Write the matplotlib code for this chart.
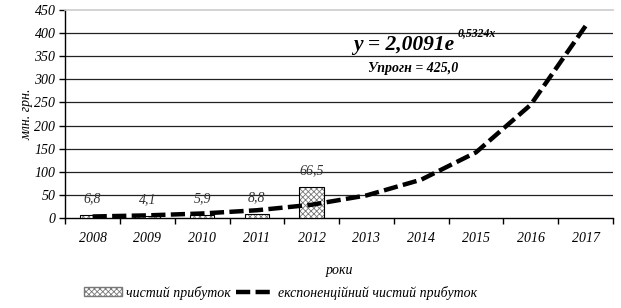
import numpy as np
import matplotlib.pyplot as plt
from matplotlib.patches import Patch
from matplotlib.lines import Line2D

years = ['2008', '2009', '2010', '2011', '2012', '2013', '2014', '2015', '2016', '2017']
profit = [6.8, 4.1, 5.9, 8.8, 66.5]
profit_labels = ['6,8', '4,1', '5,9', '8,8', '66,5']
trend = [3.4, 5.8, 9.9, 16.9, 28.8, 48.9, 83.0, 142.0, 245.0, 415.0]
y_ticks = [0, 50, 100, 150, 200, 250, 300, 350, 400, 450]

plt.rcParams['font.family'] = ['Liberation Serif', 'DejaVu Serif']
plt.rcParams['hatch.linewidth'] = 0.6

fig = plt.figure(figsize=(6.21, 3.08), dpi=100)
ax = fig.add_axes([0.105, 0.292, 0.882, 0.676])

x = np.arange(len(years))
xb = x[:len(profit)]

# hatched bars, then outline on top
ax.bar(xb, profit, width=0.45, color='white', edgecolor='#777777', hatch='xxxxxx', linewidth=0, zorder=3)
ax.bar(xb, profit, width=0.45, fill=False, edgecolor='black', linewidth=0.8, zorder=4)

for xi, v, lab in zip(xb, profit, profit_labels):
    ax.annotate(lab, (xi, v), xytext=(0, 7), textcoords='offset points',
                ha='center', va='bottom', fontsize=10, style='italic', color='#333333')

ax.plot(x, trend, color='black', linewidth=3.2, dashes=(3.2, 1.2), zorder=5, solid_capstyle='butt')

ax.set_xlim(-0.5, len(years) - 0.5)
ax.set_ylim(0, 450)
ax.set_yticks(y_ticks)
ax.set_yticklabels([str(t) for t in y_ticks], fontsize=10, style='italic')
ax.set_xticks(x)
ax.set_xticklabels(years, fontsize=10, style='italic')
ax.tick_params(axis='x', length=0, pad=10)
ax.set_xticks(np.arange(-0.5, len(years)), minor=True)
ax.tick_params(axis='x', which='minor', length=4, width=1, color='black')
ax.tick_params(axis='y', length=4, width=1, pad=3)

for t in y_ticks[1:-1]:
    ax.axhline(t, color='#222222', linewidth=0.9, zorder=1)

ax.spines['top'].set_color('#cccccc')
ax.spines['top'].set_linewidth(1.2)
ax.spines['right'].set_visible(False)
ax.spines['left'].set_linewidth(1)
ax.spines['bottom'].set_linewidth(1)

ax.set_ylabel('млн. грн.', fontsize=10, style='italic', labelpad=1)
ax.set_xlabel('роки', fontsize=10, style='italic', labelpad=14)

# trend equation with superscript exponent
eq = ax.text(4.76, 352, 'y = 2,0091e', fontsize=15.5, fontweight='bold',
             style='italic', ha='left', va='bottom')
fig.canvas.draw()
bb = eq.get_window_extent()
ax.annotate('0,5324x', xy=(bb.x1, bb.y1), xycoords='figure pixels', xytext=(2, -3),
            textcoords='offset points', fontsize=8.5, fontweight='bold', style='italic',
            ha='left', va='bottom')
ax.text(5.03, 309, 'Упрогн = 425,0', fontsize=10, fontweight='bold', style='italic', ha='left', va='bottom')

handles = [Patch(facecolor='white', edgecolor='#777777', hatch='xxxxxx'),
           Line2D([0], [0], color='black', linewidth=3.2, dashes=(3.2, 1.2))]
fig.legend(handles, ['чистий прибуток', 'експоненційний чистий прибуток'],
           loc='lower left', bbox_to_anchor=(0.122, 0.0), ncol=2, frameon=False, borderpad=0.1,
           prop={'size': 10, 'style': 'italic'}, handlelength=2.7, handleheight=0.6,
           handletextpad=0.3, columnspacing=0.4)

fig.savefig('out.png', dpi=100)
